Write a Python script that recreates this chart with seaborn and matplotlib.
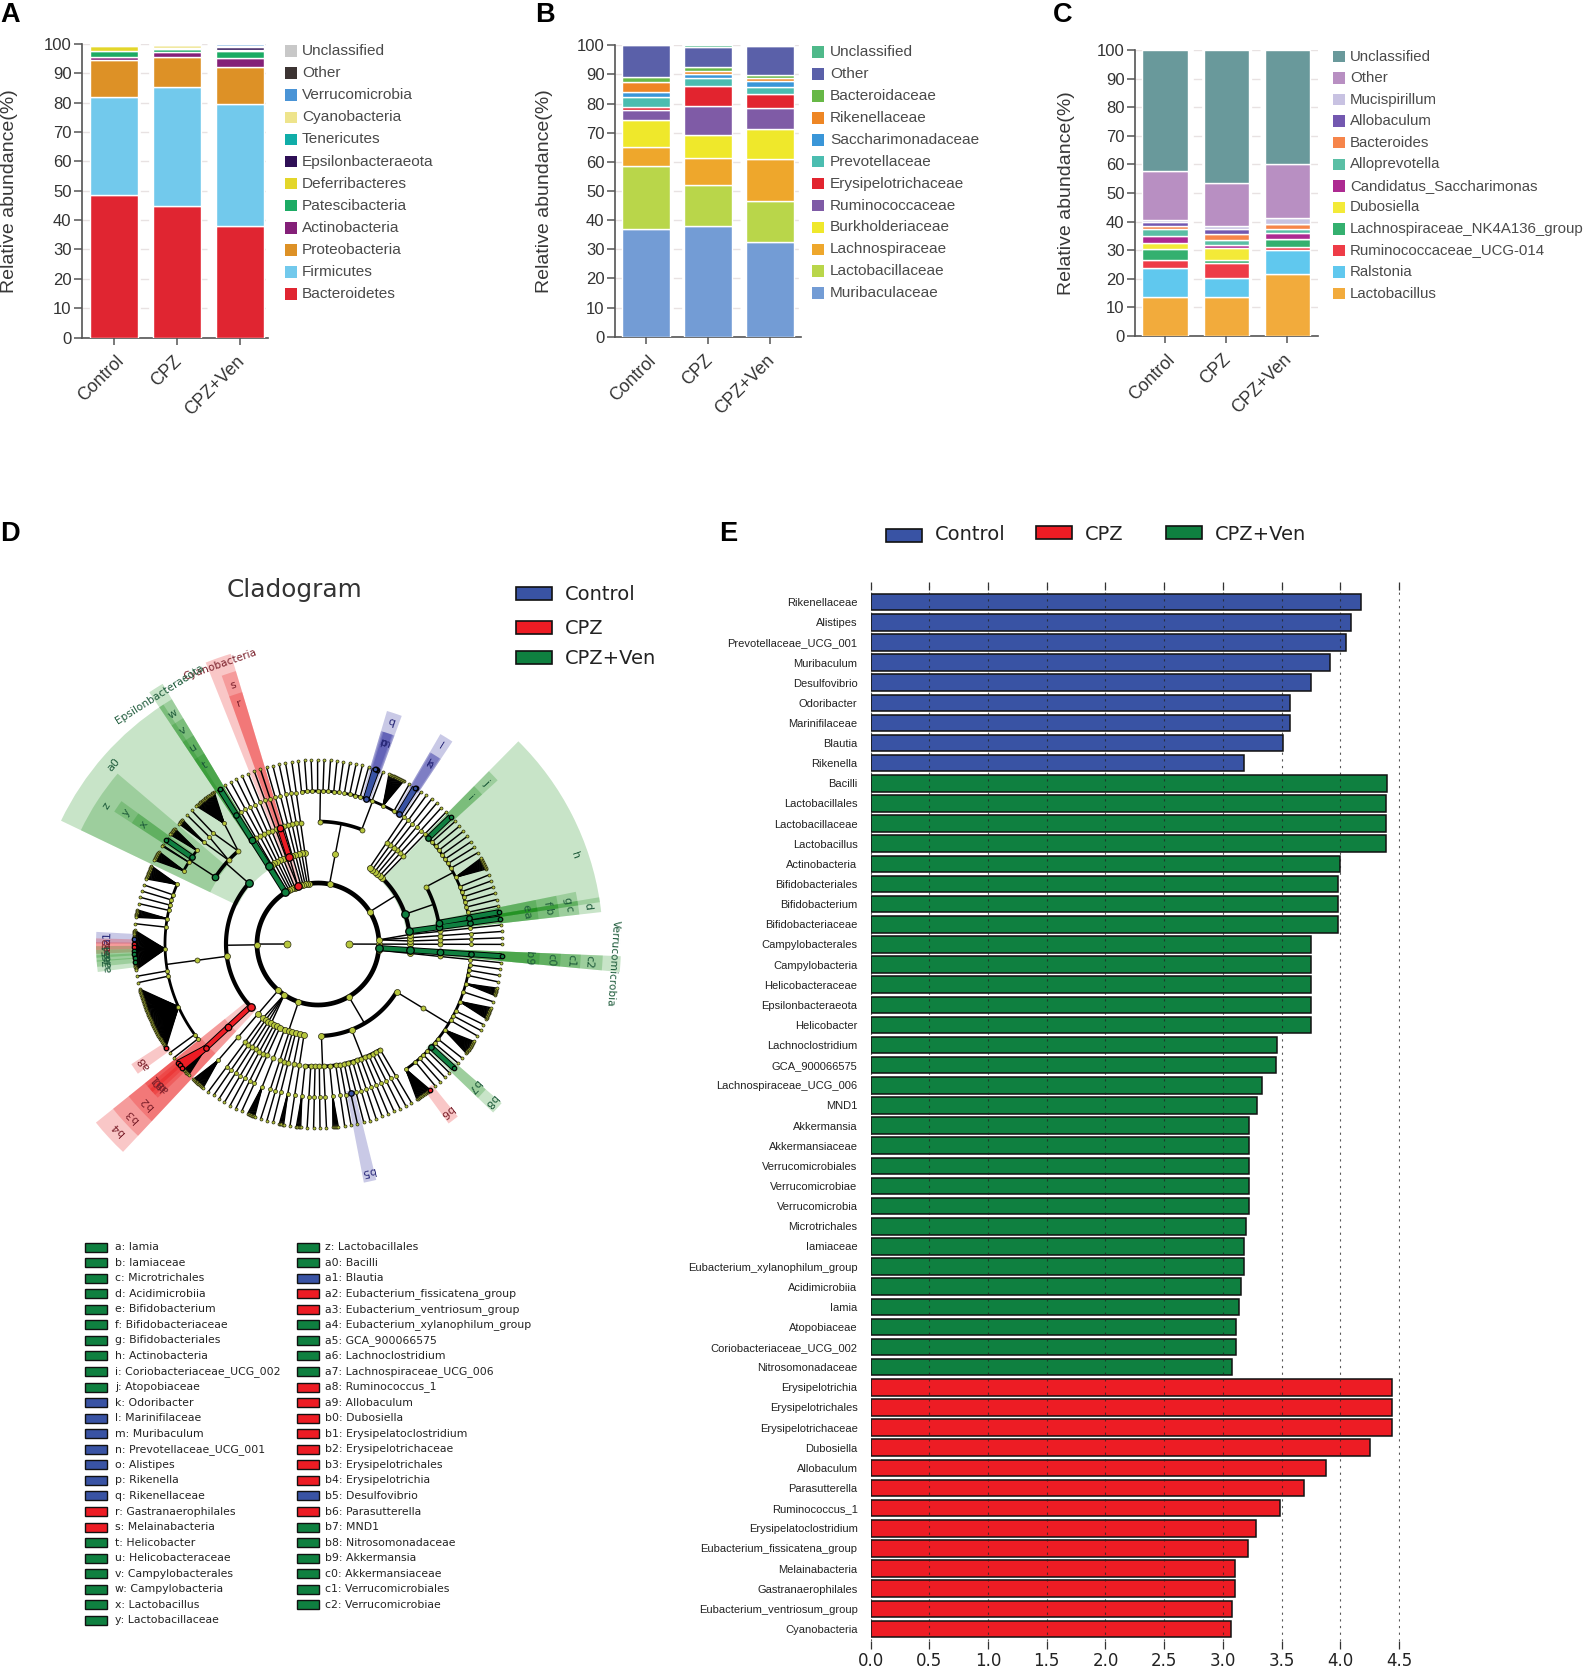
"""
Gut microbiota composition (A-C), LEfSe cladogram (D) and LDA scores (E)
"""

import numpy as np
import pandas as pd
import matplotlib
matplotlib.use('Agg')
import matplotlib.pyplot as plt
import seaborn as sns
from matplotlib.collections import LineCollection
from matplotlib.patches import Rectangle, Wedge
from matplotlib.transforms import ScaledTranslation

FIG_W, FIG_H = 1584, 1668

sns.set_theme(style='white')
plt.rcParams['font.family'] = ['Liberation Sans', 'DejaVu Sans']

# --- panels A-C: stacked composition, bottom segment first ---
groups = ['Control', 'CPZ', 'CPZ+Ven']

phylum_names = ['Bacteroidetes', 'Firmicutes', 'Proteobacteria', 'Actinobacteria', 'Patescibacteria',
                'Deferribacteres', 'Epsilonbacteraeota', 'Tenericutes', 'Cyanobacteria',
                'Verrucomicrobia', 'Other', 'Unclassified']
phylum_values = [[48.4, 44.7, 38.0], [33.4, 40.6, 41.6], [12.7, 10.2, 12.6], [1.2, 1.7, 2.9],
                 [1.9, 1.0, 2.6], [1.8, 0.2, 0.3], [0.1, 0.1, 1.1], [0.1, 0.1, 0.1],
                 [0.1, 1.0, 0.1], [0.1, 0.2, 0.6], [0.1, 0.1, 0.1], [0.1, 0.1, 0.0]]
phylum_colors = ['#e02531', '#72c9ec', '#dd9126', '#842078', '#1cab64', '#e3d62a', '#2e0f56',
                 '#10ada8', '#eee48c', '#4a94d6', '#3c3433', '#c8c8c8']

family_names = ['Muribaculaceae', 'Lactobacillaceae', 'Lachnospiraceae', 'Burkholderiaceae',
                'Ruminococcaceae', 'Erysipelotrichaceae', 'Prevotellaceae', 'Saccharimonadaceae',
                'Rikenellaceae', 'Bacteroidaceae', 'Other', 'Unclassified']
family_values = [[36.8, 38.1, 32.6], [21.8, 13.8, 14.0], [6.6, 9.3, 14.3], [9.2, 8.1, 10.3],
                 [3.4, 9.8, 7.4], [0.9, 6.9, 4.7], [3.6, 2.8, 2.3], [1.7, 1.4, 2.2],
                 [3.4, 0.9, 0.9], [1.8, 1.5, 1.1], [10.8, 6.7, 10.0], [0.0, 0.7, 0.2]]
family_colors = ['#739cd5', '#b9d64a', '#eea72c', '#efe82b', '#7f5ba6', '#e2242f', '#4bbdb0',
                 '#3a96d8', '#ee8624', '#67b846', '#5a60a9', '#4fb98a']

genus_names = ['Lactobacillus', 'Ralstonia', 'Ruminococcaceae_UCG-014', 'Lachnospiraceae_NK4A136_group',
               'Dubosiella', 'Candidatus_Saccharimonas', 'Alloprevotella', 'Bacteroides',
               'Allobaculum', 'Mucispirillum', 'Other', 'Unclassified']
genus_values = [[13.7, 13.5, 21.8], [10.0, 6.9, 8.4], [2.8, 5.0, 1.0], [3.9, 1.3, 2.7],
                [2.2, 4.1, 0.1], [2.4, 1.1, 2.0], [2.3, 1.7, 1.4], [1.0, 1.9, 1.8],
                [1.6, 1.9, 0.1], [0.5, 0.9, 2.0], [17.2, 15.3, 19.0], [42.4, 46.4, 39.8]]
genus_colors = ['#f2ab3c', '#60c8ee', '#ee3c47', '#34b06f', '#f3ea38', '#ad2a91', '#5abfa5',
                '#f6854a', '#7358b0', '#c8c2e2', '#b88fc2', '#69999b']

# --- panel E: LDA scores ---
lda_taxa = ['Rikenellaceae', 'Alistipes', 'Prevotellaceae_UCG_001', 'Muribaculum', 'Desulfovibrio',
            'Odoribacter', 'Marinifilaceae', 'Blautia', 'Rikenella',
            'Bacilli', 'Lactobacillales', 'Lactobacillaceae', 'Lactobacillus', 'Actinobacteria',
            'Bifidobacteriales', 'Bifidobacterium', 'Bifidobacteriaceae', 'Campylobacterales',
            'Campylobacteria', 'Helicobacteraceae', 'Epsilonbacteraeota', 'Helicobacter',
            'Lachnoclostridium', 'GCA_900066575', 'Lachnospiraceae_UCG_006', 'MND1', 'Akkermansia',
            'Akkermansiaceae', 'Verrucomicrobiales', 'Verrucomicrobiae', 'Verrucomicrobia',
            'Microtrichales', 'Iamiaceae', 'Eubacterium_xylanophilum_group', 'Acidimicrobiia', 'Iamia',
            'Atopobiaceae', 'Coriobacteriaceae_UCG_002', 'Nitrosomonadaceae',
            'Erysipelotrichia', 'Erysipelotrichales', 'Erysipelotrichaceae', 'Dubosiella', 'Allobaculum',
            'Parasutterella', 'Ruminococcus_1', 'Erysipelatoclostridium', 'Eubacterium_fissicatena_group',
            'Melainabacteria', 'Gastranaerophilales', 'Eubacterium_ventriosum_group', 'Cyanobacteria']
lda_scores = [4.18, 4.09, 4.05, 3.91, 3.75, 3.57, 3.57, 3.51, 3.18,
              4.40, 4.39, 4.39, 4.39, 4.00, 3.98, 3.98, 3.98, 3.75, 3.75, 3.75, 3.75, 3.75,
              3.46, 3.45, 3.33, 3.29, 3.22, 3.22, 3.22, 3.22, 3.22, 3.20, 3.18, 3.18, 3.155, 3.14,
              3.11, 3.11, 3.08,
              4.44, 4.44, 4.44, 4.25, 3.88, 3.69, 3.49, 3.28, 3.21, 3.10, 3.10, 3.08, 3.07]
lda_groups = ['Control'] * 9 + ['CPZ+Ven'] * 30 + ['CPZ'] * 13
lda_ticks = [0.0, 0.5, 1.0, 1.5, 2.0, 2.5, 3.0, 3.5, 4.0, 4.5]

group_colors = {'Control': '#3953a4', 'CPZ': '#ed1c24', 'CPZ+Ven': '#0f8040'}
wedge_colors = {'Control': '#0c0c90', 'CPZ': '#e80000', 'CPZ+Ven': '#058405'}
label_colors = {'Control': '#2a2a7a', 'CPZ': '#7a1f2a', 'CPZ+Ven': '#1d5a3a'}

# --- panel D: clade key ---
clade_col1 = ['a: Iamia', 'b: Iamiaceae', 'c: Microtrichales', 'd: Acidimicrobiia', 'e: Bifidobacterium',
              'f: Bifidobacteriaceae', 'g: Bifidobacteriales', 'h: Actinobacteria',
              'i: Coriobacteriaceae_UCG_002', 'j: Atopobiaceae', 'k: Odoribacter', 'l: Marinifilaceae',
              'm: Muribaculum', 'n: Prevotellaceae_UCG_001', 'o: Alistipes', 'p: Rikenella',
              'q: Rikenellaceae', 'r: Gastranaerophilales', 's: Melainabacteria', 't: Helicobacter',
              'u: Helicobacteraceae', 'v: Campylobacterales', 'w: Campylobacteria', 'x: Lactobacillus',
              'y: Lactobacillaceae']
clade_col1_groups = ['CPZ+Ven'] * 10 + ['Control'] * 7 + ['CPZ'] * 2 + ['CPZ+Ven'] * 6
clade_col2 = ['z: Lactobacillales', 'a0: Bacilli', 'a1: Blautia', 'a2: Eubacterium_fissicatena_group',
              'a3: Eubacterium_ventriosum_group', 'a4: Eubacterium_xylanophilum_group', 'a5: GCA_900066575',
              'a6: Lachnoclostridium', 'a7: Lachnospiraceae_UCG_006', 'a8: Ruminococcus_1', 'a9: Allobaculum',
              'b0: Dubosiella', 'b1: Erysipelatoclostridium', 'b2: Erysipelotrichaceae', 'b3: Erysipelotrichales',
              'b4: Erysipelotrichia', 'b5: Desulfovibrio', 'b6: Parasutterella', 'b7: MND1',
              'b8: Nitrosomonadaceae', 'b9: Akkermansia', 'c0: Akkermansiaceae', 'c1: Verrucomicrobiales',
              'c2: Verrucomicrobiae']
clade_col2_groups = ['CPZ+Ven', 'CPZ+Ven', 'Control', 'CPZ', 'CPZ', 'CPZ+Ven', 'CPZ+Ven', 'CPZ+Ven', 'CPZ+Ven',
                     'CPZ', 'CPZ', 'CPZ', 'CPZ', 'CPZ', 'CPZ', 'CPZ', 'Control', 'CPZ', 'CPZ+Ven', 'CPZ+Ven',
                     'CPZ+Ven', 'CPZ+Ven', 'CPZ+Ven', 'CPZ+Ven']
named_phyla = {'Verrucomicrobia': 'CPZ+Ven', 'Cyanobacteria': 'CPZ', 'Epsilonbacteraeota': 'CPZ+Ven'}

# taxonomy, counter-clockwise: a list is a node with those children, an int is a chain
# that ends in a family with that many genera, a tuple puts a clade letter on a node
big_fan = ([1] * 8 + [('a1', 1)] + [1] * 4 + [('a2', 1)] + [1] * 2 + [('a3', 1)] + [1] * 2 + [('a4', 1)]
           + [1] * 2 + [('a5', 1)] + [1] * 3 + [('a6', 1)] + [1] * 3 + [('a7', 1)] + [1] * 7)
actinobacteria = [('d', [('c', [('b', [('a', 1)])])]),
                  ('h', [('g', [('f', [('e', 1)])]),
                         [1, 1, 1, 1, 1, 1, 12, 1, 1, 1, 1, 1, 1, 1, ('j', [('i', 1)])]]),
                  1, 1, 1, 1, 1, 1]
bacteroidetes = [[[('l', [('n', 1), ('k', 1)]), 1, 16, 1, ('q', [('m', 1), ('p', 1), ('o', 1)]), 1, 1, 1, 1],
                  [1, 1, 1, 1, 1, 1, 1, 1]]]
firmicutes = [('a0', [[22, 1], [1, 6], ('z', [8, ('y', [('x', 1)]), 2, 10])]),
              [[14, 1, 1, 1, 1, 8, 1, big_fan, 1, 1, [1] * 60 + [('a8', 1)], 1, 1]],
              ('b4', [('b3', [('b2', [('b1', 1), 1, 1, ('b0', 1), 1, 1, ('a9', 1)] + [1] * 9)])])]
proteobacteria = [[5, 1, 1, 1, 1, 6, 1, 1],
                  [[('b5', 1)], 1, 1, 1, 1, 1, 1, 1, 1, 1],
                  [[[1] * 15 + [('b6', 1)], 1, 1, 1, 1, ('b8', [('b7', 1)]), 1, 1, 14, 1, 1, 1, 12, 1, 8, 1, 1, 1]]]
taxonomy = [[1, 1, 1], actinobacteria, bacteroidetes, 1, 1, 1, 1, 1,
            ('Cyanobacteria', [('s', [('r', 1)]), 1]),
            1, 1, 1, 1, 1,
            ('Epsilonbacteraeota', [('w', [('v', [('u', [('t', 1)])])])]),
            firmicutes,
            [[[13]]], [1, 1, 1, 1], [1, 1, 1, 8, 1, 1, 1, 5, 1],
            proteobacteria,
            1,
            ('Verrucomicrobia', [('c2', [('c1', [('c0', [('b9', 1)])])])])]

GENUS = 5
FAMILY = 4
LEVEL_R = [30.7, 61, 92, 122.5, 153, 184]
WEDGE_OUT = {1: 303, 2: 285, 3: 263, 4: 243, 5: 222}
LETTER_R = {2: 272, 3: 253, 4: 233, 5: 211}
NODE_PX = [7, 6, 6, 5, 4, 3]
ARC_LW = {1: 3.4, 2: 3.0, 3: 2.6, 4: 2.0}
LEAF_STEP = 0.36
FAMILY_GAP = 1.8
CX, CY = 318, 944


def px_axes(fig, left, top, right, bottom, **kwargs):
    return fig.add_axes([left / FIG_W, 1 - bottom / FIG_H, (right - left) / FIG_W, (bottom - top) / FIG_H], **kwargs)


def stacked_panel(fig, rect, xlim, label_x, names, values, colors, bar_width=0.76):
    ax = px_axes(fig, *rect)
    bottom = np.zeros(len(groups))
    for name, vals, color in zip(names, values, colors):
        sns.barplot(x=groups, y=vals, bottom=bottom, color=color, width=bar_width, saturation=1,
                    errorbar=None, ax=ax, zorder=3)
        bottom = bottom + np.array(vals)
    ax.set_xlim(*xlim)
    ax.set_ylim(0, 100)
    ax.set_yticks(range(0, 101, 10))
    ax.yaxis.grid(True, color='#e8e2e2', lw=1, linestyle=(0, (6, 8)), zorder=0)
    ax.set_axisbelow(True)
    ax.set_ylabel('Relative abundance(%)', fontsize=14, color='#383838')
    ax.yaxis.set_label_coords((label_x - rect[0]) / (rect[2] - rect[0]), 0.5)
    ax.set_xlabel('')
    sns.despine(ax=ax)
    for side in ['left', 'bottom']:
        ax.spines[side].set_color('#555555')
        ax.spines[side].set_linewidth(1.2)
    ax.tick_params(axis='y', length=5.5, width=1.1, color='#555555', labelsize=12, labelcolor='#333333', pad=2, left=True)
    ax.tick_params(axis='x', length=5, width=1.1, color='#555555', labelsize=12.8, labelcolor='#333333', pad=6, bottom=True)
    plt.setp(ax.get_xticklabels(), rotation=45, ha='right', rotation_mode='anchor')
    # the long first label sits further right of its tick than the other two
    for lab, dx in zip(ax.get_xticklabels(), [1, -4, -4]):
        lab.set_transform(lab.get_transform() + ScaledTranslation(dx / 100, 0, fig.dpi_scale_trans))
    return ax


def key_rows(canvas, names, colors, box_x, box_w, text_x, first_y, step, **text_kws):
    for i, (name, color) in enumerate(zip(names, colors)):
        y = first_y + i * step
        canvas.add_patch(Rectangle((box_x, y - box_w / 2), box_w, box_w, facecolor=color, edgecolor='none'))
        canvas.text(text_x, y, name, va='center', ha='left', **text_kws)


def group_key(canvas, entries, text_y=None):
    for name, x, y, text_x in entries:
        canvas.add_patch(Rectangle((x, y - 7), 36, 13, facecolor=group_colors[name], edgecolor='#111111', lw=1.2))
        canvas.text(text_x, text_y if text_y is not None else y, name, va='center', ha='left', fontsize=14,
                    color='#222222', family='DejaVu Sans')


def build(spec, depth):
    label = None
    if isinstance(spec, tuple):
        label, spec = spec
    node = {'label': label, 'depth': depth, 'children': []}
    if depth == GENUS:
        return node
    if isinstance(spec, int):
        if depth == FAMILY:
            node['children'] = [build(1, GENUS) for _ in range(spec)]
        else:
            node['children'] = [build(spec, depth + 1)]
    else:
        node['children'] = [build(s, depth + 1) for s in spec]
    return node


def place(node, cursor):
    # leaves get evenly stepped positions, parents sit midway between their outer children
    if node['depth'] == GENUS:
        node['a'] = node['lo'] = node['hi'] = cursor[0]
        cursor[0] += LEAF_STEP
        return
    if node['depth'] == FAMILY:
        cursor[0] += FAMILY_GAP
    for child in node['children']:
        place(child, cursor)
    kids = node['children']
    node['a'] = (kids[0]['a'] + kids[-1]['a']) / 2
    node['lo'] = kids[0]['lo']
    node['hi'] = kids[-1]['hi']


def scale_angles(node, factor, start):
    for key in ['a', 'lo', 'hi']:
        node[key] = node[key] * factor + start
    for child in node['children']:
        scale_angles(child, factor, start)


def walk(node):
    yield node
    for child in node['children']:
        yield from walk(child)


def polar(r, a):
    return r * np.cos(np.radians(a)), r * np.sin(np.radians(a))


def draw_cladogram(ax, kingdoms, group_of):
    lines, hi_lines = [], []
    for king in kingdoms:
        for node in walk(king):
            r_p = LEVEL_R[node['depth']]
            kids = node['children']
            if not kids:
                continue
            r_c = LEVEL_R[node['depth'] + 1]
            span = abs(kids[-1]['a'] - kids[0]['a'])
            use_arc = node['depth'] < FAMILY and np.radians(span) * r_c > 20
            if use_arc:
                angs = np.linspace(kids[0]['a'], kids[-1]['a'], 120)
                ax.plot(*polar(r_c, angs), color='black', lw=ARC_LW[node['depth'] + 1], solid_capstyle='round', zorder=3)
                lines.append([polar(r_p, node['a']), polar(r_c, node['a'])])
            for child in kids:
                seg = [polar(r_p, node['a']), polar(r_c, child['a'])]
                single = len(kids) == 1 or node['depth'] == FAMILY
                if node['label'] in group_of and child['label'] in group_of and single:
                    hi_lines.append((seg, group_of[child['label']]))
                elif not use_arc:
                    lines.append(seg)
    ax.add_collection(LineCollection(lines, colors='black', linewidths=1.05, zorder=4))
    for seg, group in hi_lines:
        ax.add_collection(LineCollection([seg], colors='black', linewidths=4.4, zorder=5))
        ax.add_collection(LineCollection([seg], colors=group_colors[group], linewidths=3.0, zorder=6))

    # shaded sectors and letters
    nodes = [n for king in kingdoms for n in walk(king)]
    for node in nodes:
        label = node['label']
        if label not in group_of:
            continue
        group = group_of[label]
        depth = node['depth']
        r_in = LEVEL_R[depth] - 3
        r_out = WEDGE_OUT[depth]
        pad = 1.5
        ax.add_patch(Wedge((0, 0), r_out, node['lo'] - pad, node['hi'] + pad, width=r_out - r_in,
                           facecolor=wedge_colors[group], alpha=0.22, edgecolor='none', zorder=1))
        if depth == 1:
            ax.text(*polar(296, node['a']), label, rotation=node['a'] - 90, rotation_mode='anchor',
                    ha='center', va='center', fontsize=7.6, color=label_colors[group], family='DejaVu Sans', zorder=8)
        else:
            ax.text(*polar(LETTER_R[depth], node['a']), label, rotation=node['a'] - 90, rotation_mode='anchor',
                    ha='center', va='center', fontsize=8, color=label_colors[group], family='DejaVu Sans', zorder=8)

    # nodes, plain ones first
    rows = []
    for node in nodes:
        x, y = polar(LEVEL_R[node['depth']], node['a'])
        rows.append({'x': x, 'y': y, 'depth': node['depth'], 'group': group_of.get(node['label'])})
    table = pd.DataFrame(rows)
    for depth, sub in table[table['group'].isna()].groupby('depth'):
        sns.scatterplot(data=sub, x='x', y='y', s=(NODE_PX[depth] * 0.72) ** 2, color='#b6c63c',
                        edgecolor='#2a2a10', linewidth=0.5, legend=False, ax=ax, zorder=7)
    for (depth, group), sub in table[table['group'].notna()].groupby(['depth', 'group']):
        sns.scatterplot(data=sub, x='x', y='y', s=((NODE_PX[depth] + 1.5) * 0.72) ** 2, color=group_colors[group],
                        edgecolor='black', linewidth=0.9, legend=False, ax=ax, zorder=9)


fig = plt.figure(figsize=(FIG_W / 100, FIG_H / 100), dpi=100, facecolor='white')

canvas = fig.add_axes([0, 0, 1, 1])
canvas.set_xlim(0, FIG_W)
canvas.set_ylim(FIG_H, 0)
canvas.axis('off')

# panels A-C
stacked_panel(fig, (82, 44, 268, 337.5), (-0.51, 2.45), 18, phylum_names, phylum_values, phylum_colors)
stacked_panel(fig, (615, 45.3, 801, 336.7), (-0.5, 2.5), 553, family_names, family_values, family_colors)
stacked_panel(fig, (1135, 50, 1318, 336), (-0.49, 2.5), 1075, genus_names, genus_values, genus_colors, bar_width=0.74)

legend_text = dict(fontsize=11.1, color='#4a4a4a')
key_rows(canvas, phylum_names[::-1], phylum_colors[::-1], 285, 11.5, 302, 51, 22.1, **legend_text)
key_rows(canvas, family_names[::-1], family_colors[::-1], 812, 11.5, 830, 52.2, 21.9, **legend_text)
key_rows(canvas, genus_names[::-1], genus_colors[::-1], 1333, 11.5, 1350, 56.5, 21.55, fontsize=10.8, color='#4a4a4a')

for letter, x, y in [('A', 0, 15), ('B', 535, 15), ('C', 1053, 15), ('D', 0, 534), ('E', 719, 534)]:
    canvas.text(x, y, letter, fontsize=19.5, fontweight='bold', color='black', va='center', ha='left')

# panel D
canvas.text(294, 590, 'Cladogram', fontsize=17.8, color='#333333', ha='center', va='center', family='DejaVu Sans')
group_key(canvas, [('Control', 516, 594, 565), ('CPZ', 516, 628, 565), ('CPZ+Ven', 516, 658, 565)])

letter_of = lambda entry: entry.split(':')[0]
group_of = {letter_of(e): g for e, g in zip(clade_col1 + clade_col2, clade_col1_groups + clade_col2_groups)}
group_of.update(named_phyla)

archaea = build(1, 0)
bacteria = {'label': None, 'depth': 0, 'children': [build(s, 1) for s in taxonomy]}
cursor = [0.0]
place(archaea, cursor)
place(bacteria, cursor)
factor = 360.0 / (cursor[0] + FAMILY_GAP)
scale_angles(archaea, factor, -1.8)
scale_angles(bacteria, factor, -1.8)

clado = px_axes(fig, CX - 318, CY - 318, CX + 318, CY + 318)
clado.set_xlim(-318, 318)
clado.set_ylim(-318, 318)
clado.axis('off')
draw_cladogram(clado, [archaea, bacteria], group_of)

for names, grps, box_x, text_x in [(clade_col1, clade_col1_groups, 85, 115), (clade_col2, clade_col2_groups, 297, 325)]:
    for i, (entry, grp) in enumerate(zip(names, grps)):
        y = 1247 + i * 15.56
        canvas.add_patch(Rectangle((box_x, y - 4.5), 22, 9, facecolor=group_colors[grp], edgecolor='#111111', lw=1))
        canvas.text(text_x, y, entry, va='center', ha='left', fontsize=7.85, color='#222222', family='DejaVu Sans')

# panel E
group_key(canvas, [('Control', 886, 536, 935), ('CPZ', 1036, 533, 1085), ('CPZ+Ven', 1166, 533, 1215)], text_y=535)

lda_df = pd.DataFrame({'taxon': lda_taxa, 'score': lda_scores, 'group': lda_groups})
ax_e = px_axes(fig, 870.6, 582, 1399.6, 1641)
sns.barplot(data=lda_df, x='score', y='taxon', hue='group', dodge=False, palette=group_colors, width=0.82,
            saturation=1, edgecolor='#111111', linewidth=1.1, legend=False, ax=ax_e, zorder=2)
ax_e.set_xlim(0, 4.505)
ax_e.set_ylim(51.6, -1)
ax_e.set_xticks(lda_ticks)
ax_e.set_xlabel('')
ax_e.set_ylabel('')
ax_e.xaxis.grid(True, color='#222222', lw=0.8, linestyle=(0, (2, 4)), alpha=0.75, zorder=3)
ax_e.set_axisbelow(False)
sns.despine(ax=ax_e, left=True, bottom=True)
ax_e.tick_params(axis='y', length=0, labelsize=8, labelcolor='#222222', pad=9.4)
ax_e.tick_params(axis='x', length=6, width=0.9, color='#333333', labelsize=12, labelcolor='#222222', pad=2,
                 bottom=True, top=True)
for lab in ax_e.get_xticklabels():
    lab.set_family('DejaVu Sans')
for tick in ax_e.xaxis.get_major_ticks():
    tick.tick2line.set_marker(matplotlib.markers.TICKDOWN)

fig.savefig('out.png', dpi=100)
